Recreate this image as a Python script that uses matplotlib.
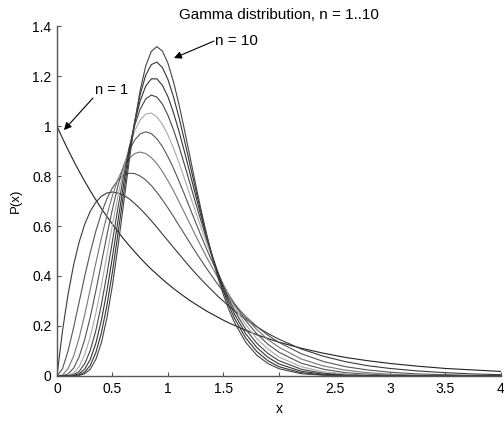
import matplotlib
matplotlib.use('Agg')
import matplotlib.pyplot as plt
from matplotlib.ticker import FormatStrFormatter

# valores (P(x) para n = 1..10)
x = [0, 0.05, 0.1, 0.15, 0.2, 0.25, 0.3, 0.35, 0.4, 0.45, 0.5, 0.55, 0.6, 0.65, 0.7,
     0.75, 0.8, 0.85, 0.9, 0.95, 1.0, 1.05, 1.1, 1.15, 1.2, 1.25, 1.3, 1.35, 1.4, 1.45,
     1.5, 1.55, 1.6, 1.7, 1.8, 1.9, 2.0, 2.2, 2.4, 2.6, 2.8, 3.0, 3.25, 3.5, 3.75, 4.0]

p_n1 = [1.000, 0.951, 0.905, 0.861, 0.819, 0.779, 0.741, 0.705, 0.670, 0.638, 0.607, 0.577,
        0.549, 0.522, 0.497, 0.472, 0.449, 0.427, 0.407, 0.387, 0.368, 0.350, 0.333, 0.317,
        0.301, 0.287, 0.273, 0.259, 0.247, 0.235, 0.223, 0.212, 0.202, 0.183, 0.165, 0.150,
        0.135, 0.111, 0.091, 0.074, 0.061, 0.050, 0.039, 0.030, 0.024, 0.018]
p_n2 = [0, 0.181, 0.327, 0.444, 0.536, 0.607, 0.659, 0.695, 0.719, 0.732, 0.736, 0.732,
        0.723, 0.709, 0.690, 0.669, 0.646, 0.621, 0.595, 0.568, 0.541, 0.514, 0.488, 0.461,
        0.435, 0.410, 0.386, 0.363, 0.341, 0.319, 0.299, 0.279, 0.261, 0.227, 0.197, 0.170,
        0.147, 0.108, 0.079, 0.057, 0.041, 0.030, 0.020, 0.013, 0.008, 0.005]
p_n3 = [0, 0.029, 0.100, 0.194, 0.296, 0.399, 0.494, 0.579, 0.651, 0.709, 0.753, 0.784,
        0.803, 0.811, 0.810, 0.800, 0.784, 0.762, 0.735, 0.705, 0.672, 0.638, 0.602, 0.567,
        0.531, 0.496, 0.462, 0.429, 0.397, 0.366, 0.337, 0.310, 0.284, 0.238, 0.198, 0.163,
        0.134, 0.089, 0.058, 0.037, 0.024, 0.015, 0.008, 0.005, 0.002, 0.001]
p_n4 = [0, 0.004, 0.029, 0.079, 0.153, 0.245, 0.347, 0.451, 0.551, 0.643, 0.722, 0.787,
        0.836, 0.870, 0.890, 0.896, 0.890, 0.874, 0.850, 0.818, 0.781, 0.741, 0.697, 0.652,
        0.607, 0.561, 0.517, 0.474, 0.433, 0.394, 0.357, 0.322, 0.290, 0.233, 0.186, 0.146,
        0.115, 0.068, 0.040, 0.023, 0.013, 0.007, 0.003, 0.002, 0.001, 0.000]
p_n5 = [0, 0.001, 0.008, 0.031, 0.077, 0.146, 0.235, 0.340, 0.451, 0.563, 0.668, 0.762,
        0.840, 0.901, 0.944, 0.969, 0.977, 0.970, 0.949, 0.918, 0.877, 0.831, 0.779, 0.725,
        0.669, 0.614, 0.559, 0.506, 0.456, 0.409, 0.365, 0.324, 0.286, 0.221, 0.169, 0.127,
        0.095, 0.051, 0.027, 0.013, 0.007, 0.003, 0.001, 0.000, 0.000, 0.000]
p_n6 = [0, 0.000, 0.002, 0.012, 0.037, 0.085, 0.156, 0.250, 0.361, 0.482, 0.605, 0.722,
        0.826, 0.913, 0.980, 1.025, 1.048, 1.052, 1.037, 1.007, 0.964, 0.911, 0.852, 0.788,
        0.722, 0.656, 0.591, 0.529, 0.470, 0.415, 0.364, 0.318, 0.276, 0.205, 0.150, 0.108,
        0.076, 0.037, 0.017, 0.008, 0.003, 0.001, 0.000, 0.000, 0.000, 0.000]
p_n7 = [0, 0.000, 0.001, 0.005, 0.018, 0.049, 0.102, 0.181, 0.285, 0.407, 0.540, 0.674,
        0.800, 0.912, 1.002, 1.068, 1.109, 1.124, 1.116, 1.088, 1.043, 0.985, 0.918, 0.844,
        0.768, 0.691, 0.617, 0.545, 0.478, 0.415, 0.359, 0.308, 0.262, 0.187, 0.131, 0.090,
        0.061, 0.027, 0.011, 0.004, 0.002, 0.001, 0.000, 0.000, 0.000, 0.000]
p_n8 = [0, 0.000, 0.000, 0.002, 0.009, 0.027, 0.066, 0.130, 0.222, 0.340, 0.476, 0.622,
        0.767, 0.900, 1.014, 1.101, 1.160, 1.189, 1.189, 1.163, 1.117, 1.053, 0.978, 0.895,
        0.808, 0.721, 0.636, 0.555, 0.480, 0.411, 0.349, 0.295, 0.247, 0.169, 0.114, 0.075,
        0.048, 0.019, 0.007, 0.002, 0.001, 0.000, 0.000, 0.000, 0.000, 0.000]
p_n9 = [0, 0.000, 0.000, 0.001, 0.004, 0.015, 0.042, 0.093, 0.172, 0.281, 0.417, 0.570,
        0.729, 0.882, 1.017, 1.126, 1.204, 1.246, 1.256, 1.234, 1.186, 1.117, 1.033, 0.940,
        0.843, 0.745, 0.650, 0.561, 0.478, 0.404, 0.338, 0.280, 0.230, 0.152, 0.098, 0.061,
        0.037, 0.013, 0.004, 0.001, 0.000, 0.000, 0.000, 0.000, 0.000, 0.000]
p_n10 = [0, 0.000, 0.000, 0.000, 0.002, 0.009, 0.027, 0.066, 0.132, 0.232, 0.363, 0.519,
         0.688, 0.858, 1.014, 1.144, 1.241, 1.299, 1.318, 1.300, 1.251, 1.177, 1.085, 0.982,
         0.874, 0.765, 0.661, 0.563, 0.473, 0.394, 0.324, 0.264, 0.213, 0.135, 0.083, 0.050,
         0.029, 0.009, 0.003, 0.001, 0.000, 0.000, 0.000, 0.000, 0.000, 0.000]

curvas = [p_n1, p_n2, p_n3, p_n4, p_n5, p_n6, p_n7, p_n8, p_n9, p_n10]
colores = ['#222222', '#3a3a3a', '#555555', '#777777', '#555555',
           '#aaaaaa', '#444444', '#333333', '#333333', '#444444']

plt.rcParams['font.family'] = ['Liberation Sans', 'DejaVu Sans']
fs = 10

fig = plt.figure(figsize=(5.04, 4.21), dpi=100)
ax = fig.add_axes([0.113, 0.107, 0.881, 0.831])

for p, c in zip(curvas, colores):
    ax.plot(x, p, color=c, lw=0.8)

ax.set_xlim(0, 4)
ax.set_ylim(0, 1.4)
ax.set_xticks([0, 0.5, 1, 1.5, 2, 2.5, 3, 3.5, 4])
ax.set_yticks([0, 0.2, 0.4, 0.6, 0.8, 1, 1.2, 1.4])
ax.xaxis.set_major_formatter(FormatStrFormatter('%g'))
ax.yaxis.set_major_formatter(FormatStrFormatter('%g'))
ax.tick_params(direction='in', length=3, width=0.8, colors='#555555',
               labelcolor='black', labelsize=fs, pad=4)

for lado in ['top', 'right']:
    ax.spines[lado].set_visible(False)
for lado in ['left', 'bottom']:
    ax.spines[lado].set_color('#555555')
    ax.spines[lado].set_linewidth(1.0)

ax.set_title('Gamma distribution, n = 1..10', fontsize=11, pad=5)
ax.set_xlabel('x', fontsize=fs, labelpad=5)
ax.set_ylabel('P(x)', fontsize=9.5, labelpad=7)

flecha = dict(arrowstyle='-|>', color='black', lw=0.8, mutation_scale=11,
              shrinkA=0, shrinkB=0)
ax.annotate('', xy=(0.063, 0.984), xytext=(0.324, 1.112), arrowprops=flecha)
ax.text(0.342, 1.144, 'n = 1', fontsize=10.5, ha='left', va='center')
ax.annotate('', xy=(1.054, 1.272), xytext=(1.414, 1.34), arrowprops=flecha,
            annotation_clip=False)
ax.text(1.423, 1.34, 'n = 10', fontsize=11, ha='left', va='center')

plt.savefig('out.png', dpi=100)
